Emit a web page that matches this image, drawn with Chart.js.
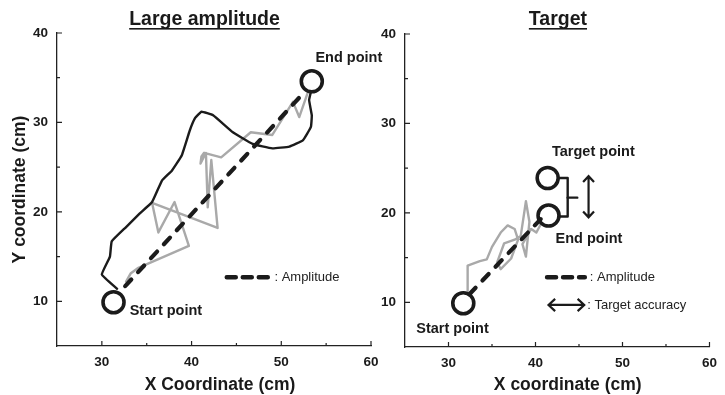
<!DOCTYPE html>
<html>
<head>
<meta charset="utf-8">
<script src="https://cdn.jsdelivr.net/npm/chart.js@4.4.1/dist/chart.umd.min.js"></script>
<style>
  html, body { margin: 0; padding: 0; background: #fff; }
  #wrap { position: relative; width: 725px; height: 395px; overflow: hidden; }
  canvas { position: absolute; top: 0; }
  #left { left: 0; }
  #right { left: 370px; }
</style>
</head>
<body>
<div id="wrap">
  <canvas id="left" width="400" height="395" style="width:400px;height:395px"></canvas>
  <canvas id="right" width="355" height="395" style="width:355px;height:395px"></canvas>
</div>
<script>
// ===== data (cm) =====
const xTicks = [30, 40, 50, 60];
const yTicks = [10, 20, 30, 40];
const xMinor = [35, 45, 55];
const yMinor = [15, 25, 35];

// Large amplitude panel
const largeStart = [[31.3, 9.9]];
const largeEnd = [[53.4, 34.6]];
const largeAmplitude = [[32.6, 11.7], [52.4, 33.2]];
const largeBlackPath = [
  [31.7, 11.4], [30.0, 13.0], [30.9, 15.0], [31.1, 16.7], [32.7, 18.3], [34.2, 19.8],
  [35.6, 21.1], [36.7, 23.5], [37.8, 24.6], [38.9, 26.3], [39.8, 29.1], [40.4, 30.5],
  [41.1, 31.2], [42.4, 30.8], [44.6, 28.9], [46.8, 27.6], [49.0, 27.1], [50.9, 27.3],
  [52.4, 28.0], [53.3, 29.5], [53.4, 30.8], [53.1, 32.5], [53.3, 33.4]
];
const largeGrayPath = [
  [32.7, 12.2], [33.2, 13.1], [34.0, 13.7], [39.7, 16.2], [38.1, 21.1], [36.3, 17.7],
  [35.6, 21.0], [42.9, 18.2], [42.2, 25.8], [41.8, 20.5], [41.6, 26.6], [41.0, 25.4],
  [41.1, 26.2], [41.4, 26.6], [43.3, 26.1], [46.6, 28.9], [49.0, 28.6], [51.3, 32.3],
  [52.0, 30.6], [52.9, 33.2]
];

// Target panel
const targetStart = [[31.7, 9.9]];
const targetPoint = [[41.4, 23.9]];
const targetEnd = [[41.5, 19.7]];
const targetAmplitude = [[32.4, 10.9], [40.6, 19.3]];
const targetGrayPath = [
  [32.2, 11.2], [32.2, 14.1], [33.6, 14.6], [34.4, 14.8], [35.0, 16.2], [36.0, 17.8],
  [36.8, 18.6], [37.6, 18.2], [38.0, 17.0], [37.2, 14.9], [36.0, 13.7], [35.6, 14.5],
  [36.4, 16.6], [37.6, 17.0], [38.3, 17.4], [38.9, 21.3], [39.3, 19.0], [38.9, 15.1],
  [38.5, 16.5], [39.5, 18.2], [40.1, 17.8], [40.7, 18.9]
];
const accuracyBracket = [[42.6, 23.9], [43.7, 23.9], [43.7, 19.6], [42.6, 19.6]];
const accuracyBracketTick = [[43.7, 21.7], [44.8, 21.7]];
const accuracyArrow = [[46.1, 24.1], [46.1, 19.5]];

// ===== drawing helpers =====
const FONT = 'Arial, "Liberation Sans", Helvetica, sans-serif';
const INK = '#1b1b1b';
const GRAY = '#a9a9a9';

const pts = arr => arr.map(p => ({ x: p[0], y: p[1] }));

function circleSet(arr) {
  return {
    data: pts(arr), showLine: false, pointStyle: 'circle', pointRadius: 10.5,
    pointBorderWidth: 3.6, pointBorderColor: INK, pointBackgroundColor: 'rgba(0,0,0,0)'
  };
}
function lineSet(arr, color, width, extra = {}) {
  return Object.assign({
    data: pts(arr), showLine: true, pointRadius: 0, borderColor: color,
    borderWidth: width, tension: 0, borderJoinStyle: 'round', borderCapStyle: 'round'
  }, extra);
}

function doubleArrow(ctx, x1, y1, x2, y2, head) {
  const a = Math.atan2(y2 - y1, x2 - x1);
  ctx.beginPath();
  ctx.moveTo(x1, y1); ctx.lineTo(x2, y2);
  for (const [x, y, ang] of [[x1, y1, a + Math.PI], [x2, y2, a]]) {
    ctx.moveTo(x - head * Math.cos(ang - 0.75), y - head * Math.sin(ang - 0.75));
    ctx.lineTo(x, y);
    ctx.lineTo(x - head * Math.cos(ang + 0.75), y - head * Math.sin(ang + 0.75));
  }
  ctx.stroke();
}

function makeDecor(cfg) {
  return {
    id: 'decor',
    afterDatasetsDraw(chart) {
      const ctx = chart.ctx, xs = chart.scales.x, ys = chart.scales.y;
      const { left, bottom } = chart.chartArea;
      ctx.save();
      ctx.strokeStyle = '#222';
      ctx.lineWidth = 1.2;
      ctx.beginPath();
      xTicks.forEach(v => { const p = xs.getPixelForValue(v); ctx.moveTo(p, bottom); ctx.lineTo(p, bottom - 5); });
      xMinor.forEach(v => { const p = xs.getPixelForValue(v); ctx.moveTo(p, bottom); ctx.lineTo(p, bottom - 3); });
      yTicks.forEach(v => { const p = ys.getPixelForValue(v); ctx.moveTo(left, p); ctx.lineTo(left + 5, p); });
      yMinor.forEach(v => { const p = ys.getPixelForValue(v); ctx.moveTo(left, p); ctx.lineTo(left + 3, p); });
      ctx.stroke();

      // vertical accuracy arrow
      if (cfg.arrow) {
        ctx.strokeStyle = INK;
        ctx.lineWidth = 2.2;
        const [a, b] = cfg.arrow;
        doubleArrow(ctx, xs.getPixelForValue(a[0]), ys.getPixelForValue(a[1]),
          xs.getPixelForValue(b[0]), ys.getPixelForValue(b[1]), 8);
      }
      ctx.restore();
    },
    afterDraw(chart) {
      const ctx = chart.ctx, xs = chart.scales.x, ys = chart.scales.y;
      const ca = chart.chartArea;
      const mid = (ca.left + ca.right) / 2;
      ctx.save();
      ctx.fillStyle = '#1a1a1a';
      ctx.textBaseline = 'middle';

      // panel title, underlined
      ctx.font = 'bold 19.5px ' + FONT;
      ctx.textAlign = 'center';
      const tx = mid + cfg.titleShift;
      ctx.fillText(cfg.title, tx, 20);
      const tw = ctx.measureText(cfg.title).width;
      ctx.fillRect(tx - tw / 2, 28, tw, 1.6);

      // axis titles
      ctx.font = 'bold 17.5px ' + FONT;
      ctx.fillText(cfg.xTitle, mid + cfg.xTitleShift, 385);
      if (cfg.yTitle) {
        ctx.save();
        ctx.translate(20, (ca.top + ca.bottom) / 2);
        ctx.rotate(-Math.PI / 2);
        ctx.fillText(cfg.yTitle, 0, 0);
        ctx.restore();
      }

      // point labels
      ctx.font = 'bold 14.5px ' + FONT;
      ctx.textAlign = 'left';
      cfg.labels.forEach(l => ctx.fillText(l.text, xs.getPixelForValue(l.x), ys.getPixelForValue(l.y)));

      // legend
      ctx.font = '13px ' + FONT;
      ctx.fillStyle = '#222';
      ctx.strokeStyle = INK;
      cfg.legend.forEach(l => {
        const x1 = xs.getPixelForValue(l.x1), x2 = xs.getPixelForValue(l.x2), y = ys.getPixelForValue(l.y);
        if (l.kind === 'dash') {
          ctx.save();
          ctx.lineWidth = 4.5;
          ctx.lineCap = 'round';
          ctx.setLineDash([9, 7]);
          ctx.beginPath(); ctx.moveTo(x1 + 2, y); ctx.lineTo(x2 - 2, y); ctx.stroke();
          ctx.restore();
        } else {
          ctx.lineWidth = 2.2;
          doubleArrow(ctx, x1, y, x2, y, 9);
        }
        ctx.fillText(l.text, x2 + 3, y);
      });
      ctx.restore();
    }
  };
}

function makeChart(id, datasets, pad, yWidth, xHeight, cfg) {
  return new Chart(document.getElementById(id), {
    type: 'scatter',
    data: { datasets },
    options: {
      responsive: false,
      animation: false,
      events: [],
      layout: { padding: pad },
      plugins: { legend: { display: false }, tooltip: { enabled: false } },
      scales: {
        x: {
          type: 'linear', min: 25, max: 60,
          afterBuildTicks: s => { s.ticks = xTicks.map(v => ({ value: v })); },
          afterFit: s => { s.height = xHeight; },
          grid: { drawOnChartArea: false, drawTicks: false },
          border: { color: '#222', width: 1.3 },
          ticks: { padding: 8, color: '#1a1a1a', font: { family: FONT, size: 13.5, weight: 'bold' } }
        },
        y: {
          type: 'linear', min: 5, max: 40,
          afterBuildTicks: s => { s.ticks = yTicks.map(v => ({ value: v })); },
          afterFit: s => { s.width = yWidth; },
          grid: { drawOnChartArea: false, drawTicks: false },
          border: { color: '#222', width: 1.3 },
          ticks: { padding: 9, color: '#1a1a1a', font: { family: FONT, size: 13.5, weight: 'bold' } }
        }
      }
    },
    plugins: [makeDecor(cfg)]
  });
}

// ===== Large amplitude =====
makeChart('left', [
  circleSet(largeStart),
  circleSet(largeEnd),
  lineSet(largeAmplitude, INK, 4.2, { borderDash: [9, 10] }),
  lineSet(largeBlackPath, INK, 2.4, { tension: 0.1 }),
  lineSet(largeGrayPath, GRAY, 2.4)
], { top: 33, right: 29, left: 0, bottom: 0 }, 57, 49, {
  title: 'Large amplitude', titleShift: -9.5,
  xTitle: 'X Coordinate (cm)', xTitleShift: 6,
  yTitle: 'Y coordinate (cm)',
  labels: [
    { text: 'End point', x: 53.8, y: 37.2 },
    { text: 'Start point', x: 33.1, y: 8.9 }
  ],
  legend: [
    { kind: 'dash', x1: 43.7, x2: 48.9, y: 12.7, text: ': Amplitude' }
  ]
});

// ===== Target =====
makeChart('right', [
  circleSet(targetStart),
  circleSet(targetPoint),
  circleSet(targetEnd),
  lineSet(accuracyBracket, INK, 2.4),
  lineSet(accuracyBracketTick, INK, 2.4),
  lineSet(targetAmplitude, INK, 4.2, { borderDash: [9, 10] }),
  lineSet(targetGrayPath, GRAY, 2.4)
], { top: 34, right: 6, left: 0, bottom: 0 }, 35, 48, {
  title: 'Target', titleShift: 0.7,
  xTitle: 'X coordinate (cm)', xTitleShift: 10.5,
  yTitle: null,
  arrow: accuracyArrow,
  labels: [
    { text: 'Target point', x: 41.9, y: 26.8 },
    { text: 'End point', x: 42.3, y: 17.1 },
    { text: 'Start point', x: 26.3, y: 7.0 }
  ],
  legend: [
    { kind: 'dash', x1: 41.1, x2: 45.9, y: 12.8, text: ': Amplitude' },
    { kind: 'arrow', x1: 41.5, x2: 45.6, y: 9.7, text: ': Target accuracy' }
  ]
});
</script>
</body>
</html>
